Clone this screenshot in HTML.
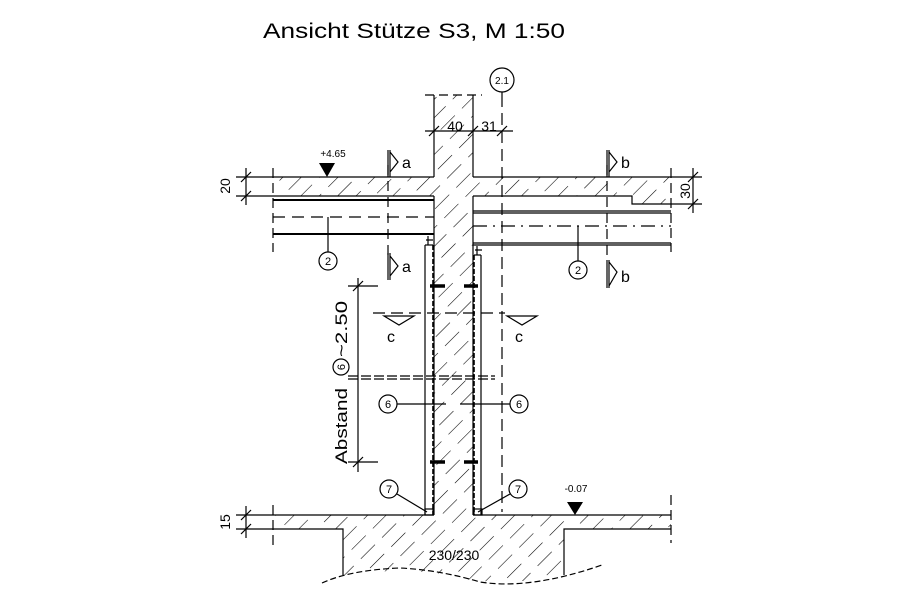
<!DOCTYPE html>
<html><head><meta charset="utf-8"><style>
html,body{margin:0;padding:0;background:#fff;}
svg{display:block;}
text{font-family:"Liberation Sans",sans-serif;fill:#000;}
</style></head><body>
<svg width="897" height="616" viewBox="0 0 897 616" xmlns="http://www.w3.org/2000/svg">
<defs>
<pattern id="h" patternUnits="userSpaceOnUse" width="13" height="30" patternTransform="rotate(45)">
<line x1="0" y1="0" x2="0" y2="20" stroke="#000" stroke-width="1.1"/>
</pattern>
</defs>
<rect width="897" height="616" fill="#fff"/>
<text x="263" y="38" font-size="21" textLength="302" lengthAdjust="spacingAndGlyphs" transform="translate(0,0)">Ansicht Stütze S3, M 1:50</text>

<g stroke="#000" fill="none" stroke-width="1.2">
<rect x="434" y="95" width="39" height="420" fill="url(#h)" stroke="none"/>
<line x1="425" y1="95" x2="482" y2="95" stroke-dasharray="9,5"/>
<line x1="434" y1="95" x2="434" y2="177"/>
<line x1="473" y1="95" x2="473" y2="177"/>
<line x1="434" y1="196" x2="434" y2="515"/>
<line x1="473" y1="196" x2="473" y2="515"/>
<rect x="273" y="177" width="161" height="19" fill="url(#h)" stroke="none"/>
<path d="M473 177 H671 V204 H632 V196 H473 Z" fill="url(#h)" stroke="none"/>
<line x1="273" y1="177" x2="434" y2="177"/>
<line x1="473" y1="177" x2="671" y2="177"/>
<line x1="273" y1="196" x2="434" y2="196"/>
<path d="M473 196 H632 V204 H671"/>
<line x1="273" y1="200" x2="434" y2="200" stroke-width="2"/>
<line x1="273" y1="234" x2="434" y2="234" stroke-width="2"/>
<line x1="273" y1="217" x2="434" y2="217" stroke-dasharray="12,7"/>
<line x1="273" y1="168" x2="273" y2="252" stroke-dasharray="10,5"/>
<line x1="473" y1="211" x2="671" y2="211"/>
<line x1="473" y1="213" x2="671" y2="213"/>
<line x1="473" y1="243" x2="671" y2="243"/>
<line x1="473" y1="245" x2="671" y2="245"/>
<line x1="473" y1="226" x2="671" y2="226" stroke-dasharray="14,6,2,6"/>
<line x1="671" y1="168" x2="671" y2="252" stroke-dasharray="10,5"/>
<line x1="502" y1="95" x2="502" y2="512" stroke-dasharray="12,6"/>
<line x1="388" y1="165" x2="388" y2="255" stroke-dasharray="10,6"/>
<line x1="607" y1="165" x2="607" y2="255" stroke-dasharray="10,6"/>
<line x1="425" y1="131" x2="513" y2="131"/>
<line x1="429" y1="136" x2="439" y2="126"/><line x1="468" y1="136" x2="478" y2="126"/><line x1="497" y1="136" x2="507" y2="126"/>
<line x1="502" y1="92" x2="502" y2="95"/>
<circle cx="502" cy="80" r="12"/>
<line x1="246" y1="168" x2="246" y2="205"/>
<line x1="236" y1="177" x2="273" y2="177"/><line x1="236" y1="196" x2="273" y2="196"/>
<line x1="241" y1="182" x2="251" y2="172"/><line x1="241" y1="201" x2="251" y2="191"/>
<line x1="693" y1="168" x2="693" y2="213"/>
<line x1="671" y1="177" x2="702" y2="177"/><line x1="671" y1="204" x2="702" y2="204"/>
<line x1="688" y1="182" x2="698" y2="172"/><line x1="688" y1="209" x2="698" y2="199"/>
<line x1="425" y1="245" x2="425" y2="515"/>
<line x1="433" y1="245" x2="433" y2="515" stroke-dasharray="5,2" stroke-width="1.6"/>
<line x1="425" y1="245" x2="433" y2="245"/>
<path d="M428 236 V245 M426 240 H433"/>
<line x1="481" y1="255" x2="481" y2="515"/>
<line x1="474" y1="255" x2="474" y2="515" stroke-dasharray="5,2" stroke-width="1.6"/>
<line x1="474" y1="255" x2="481" y2="255"/>
<path d="M477 246 V255 M475 250 H482"/>
<path d="M430 286 H445 M464 286 H478 M430 462 H445 M464 462 H478" stroke-width="3.5"/>
<line x1="358" y1="278" x2="358" y2="472"/>
<line x1="348" y1="286" x2="378" y2="286"/><line x1="348" y1="462" x2="378" y2="462"/>
<line x1="353" y1="291" x2="363" y2="281"/><line x1="353" y1="467" x2="363" y2="457"/>
<line x1="348" y1="376" x2="495" y2="376" stroke-dasharray="10,3"/>
<line x1="348" y1="379" x2="495" y2="379" stroke-dasharray="10,3"/>
<line x1="373" y1="313" x2="505" y2="313" stroke-dasharray="12,6"/>
<path d="M384 316 H414 L399 325 Z"/>
<path d="M507 316 H537 L522 325 Z"/>
<circle cx="388" cy="404" r="9"/><line x1="397" y1="404" x2="446" y2="404"/>
<circle cx="519" cy="404" r="9"/><line x1="460" y1="404" x2="510" y2="404"/>
<circle cx="389" cy="489" r="9"/><line x1="397" y1="494" x2="427" y2="512"/>
<circle cx="518" cy="489" r="9"/><line x1="510" y1="494" x2="478" y2="512"/>
<rect x="425" y="509" width="8" height="6"/><rect x="474" y="509" width="8" height="6"/>
<path d="M273 515 H671 V529 H564 V575 Q520 585 470 580 Q420 565 343 575 V529 H273 Z" fill="url(#h)" stroke="none"/>
<path d="M273 515 H434 M473 515 H671 M273 529 H343 V575 M671 529 H564 V575"/>
<path d="M322 583 Q350 570 400 568 Q440 570 480 582 Q530 590 602 565" stroke-dasharray="6,3"/>
<line x1="273" y1="505" x2="273" y2="550" stroke-dasharray="10,5"/>
<line x1="671" y1="495" x2="671" y2="543" stroke-dasharray="10,5"/>
<line x1="246" y1="506" x2="246" y2="538"/>
<line x1="236" y1="515" x2="273" y2="515"/><line x1="236" y1="529" x2="273" y2="529"/>
<line x1="241" y1="520" x2="251" y2="510"/><line x1="241" y1="534" x2="251" y2="524"/>
<path d="M388 150 V177 M390 150 V177 M390 152 L398 162 L390 172"/>
<path d="M388 253 V280 M390 253 V280 M390 256 L398 266 L390 276"/>
<path d="M607 150 V177 M609 150 V177 M609 152 L617 162 L609 172"/>
<path d="M607 260 V288 M609 260 V288 M609 262 L617 272 L609 286"/>
<circle cx="328" cy="261" r="9"/><line x1="328" y1="217" x2="328" y2="252"/>
<circle cx="578" cy="270" r="9"/><line x1="578" y1="226" x2="578" y2="261"/>
<circle cx="341" cy="367" r="8"/>
</g>
<path d="M319 163 H335 L327 177 Z" fill="#000"/>
<path d="M567 502 H583 L575 515 Z" fill="#000"/>
<g font-size="16">
<text x="402" y="168">a</text><text x="402" y="272">a</text>
<text x="621" y="168">b</text><text x="621" y="282">b</text>
<text x="391" y="342" text-anchor="middle">c</text><text x="519" y="342" text-anchor="middle">c</text>
</g>
<g font-size="14">
<text x="455" y="131" text-anchor="middle">40</text>
<text x="489" y="131" text-anchor="middle">31</text>
<text x="454" y="560" text-anchor="middle">230/230</text>
</g>
<g font-size="11" text-anchor="middle">
<text x="502" y="84" font-size="10">2.1</text>
<text x="328" y="265">2</text><text x="578" y="274">2</text>
<text x="388" y="408">6</text><text x="519" y="408">6</text>
<text x="389" y="493">7</text><text x="518" y="493">7</text>
<text x="333" y="157" font-size="10">+4.65</text>
<text x="576" y="492" font-size="10">-0.07</text>
</g>
<text transform="translate(230,186) rotate(-90)" font-size="14" text-anchor="middle">20</text>
<text transform="translate(230,522) rotate(-90)" font-size="14" text-anchor="middle">15</text>
<text transform="translate(690,191) rotate(-90)" font-size="14" text-anchor="middle">30</text>
<text transform="translate(347,426) rotate(-90)" font-size="17" text-anchor="middle" textLength="76" lengthAdjust="spacingAndGlyphs">Abstand</text>
<text transform="translate(347,329) rotate(-90)" font-size="17" text-anchor="middle" textLength="56" lengthAdjust="spacingAndGlyphs">~2.50</text>
<text transform="translate(345,367) rotate(-90)" font-size="11" text-anchor="middle">6</text>
</svg>
</body></html>
